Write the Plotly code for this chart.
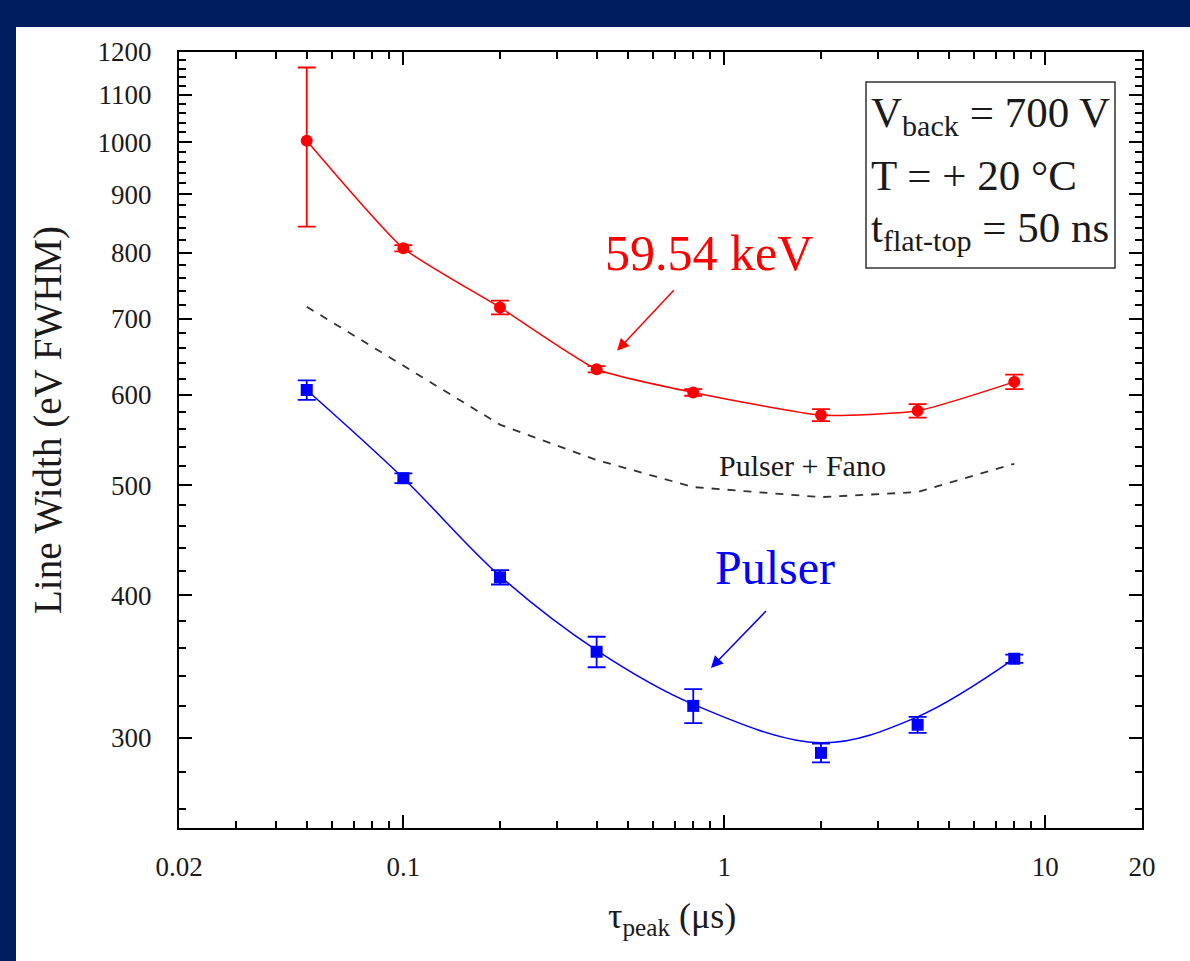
import plotly.graph_objects as go

# ---- data ----
tau_peak = [0.05, 0.1, 0.2, 0.4, 0.8, 2, 4, 8]          # µs
kev59_width = [1003, 807, 716, 632, 603, 576, 581, 616]  # eV FWHM
kev59_err = [160, 5, 10, 4, 4, 7, 8, 9]
pulser_width = [606, 507, 415, 357, 320, 291, 308, 352]
pulser_err = [12, 5, 6, 11, 11, 5.5, 5, 3]
pulser_fit = [606, 507, 416, 358, 321, 297, 313, 352]
pulser_fano = [717, 636, 565, 526, 498, 488, 493, 522]

x_tickvals = [0.02, 0.1, 1, 10, 20]
x_ticktext = ["0.02", "0.1", "1", "10", "20"]
x_minor = [0.03, 0.04, 0.05, 0.06, 0.07, 0.08, 0.09,
           0.2, 0.3, 0.4, 0.5, 0.6, 0.7, 0.8, 0.9,
           2, 3, 4, 5, 6, 7, 8, 9]
y_tickvals = [300, 400, 500, 600, 700, 800, 900, 1000, 1100, 1200]
y_minor = [v for v in range(260, 1200, 20) if v % 100 != 0]

FONT = "Liberation Serif, Times New Roman, serif"
NAVY = "#001E5E"
RED = "#FF0000"
BLUE = "#0000FF"
INK = "#1a1a1a"

fig = go.Figure()

# Pulser + Fano (dashed)
fig.add_trace(go.Scatter(
    x=tau_peak, y=pulser_fano, mode="lines",
    line=dict(color="#333333", width=1.8, dash="8px,8px"),
    name="Pulser + Fano", showlegend=False, hoverinfo="skip"))

# 59.54 keV line
fig.add_trace(go.Scatter(
    x=tau_peak, y=kev59_width, mode="lines+markers",
    line=dict(color=RED, width=1.5, shape="spline", smoothing=0.5),
    marker=dict(color=RED, size=12, symbol="circle"),
    error_y=dict(type="data", array=kev59_err, visible=True,
                 color=RED, thickness=1.8, width=9),
    name="59.54 keV", showlegend=False))

# Pulser fit curve
fig.add_trace(go.Scatter(
    x=tau_peak, y=pulser_fit, mode="lines",
    line=dict(color=BLUE, width=1.5, shape="spline", smoothing=1.0),
    name="Pulser fit", showlegend=False, hoverinfo="skip"))

# Pulser points
fig.add_trace(go.Scatter(
    x=tau_peak, y=pulser_width, mode="markers",
    marker=dict(color=BLUE, size=12, symbol="square"),
    error_y=dict(type="data", array=pulser_err, visible=True,
                 color=BLUE, thickness=1.8, width=9),
    name="Pulser", showlegend=False))

axis_common = dict(
    type="log", showline=True, linecolor="black", linewidth=2,
    mirror="ticks", ticks="inside", ticklen=13, tickwidth=2, tickcolor="black",
    showgrid=False, zeroline=False,
    tickfont=dict(family=FONT, size=27, color=INK),
)

fig.update_xaxes(
    **axis_common,
    range=[-1.69897, 1.30103],
    tickmode="array", tickvals=x_tickvals, ticktext=x_ticktext,
    ticklabelstandoff=14,
    minor=dict(ticks="inside", ticklen=7, tickwidth=1.5, tickcolor="black",
               tickmode="array", tickvals=x_minor, showgrid=False),
)
fig.update_yaxes(
    **axis_common,
    range=[2.39794, 3.07918],
    tickmode="array", tickvals=y_tickvals,
    ticklabelstandoff=20,
    minor=dict(ticks="inside", ticklen=7, tickwidth=1.5, tickcolor="black",
               tickmode="array", tickvals=y_minor, showgrid=False),
)

annotations = [
    # axis titles
    dict(text="Line Width (eV FWHM)", xref="paper", yref="paper",
         x=(48 - 179) / 963, y=(828 - 420) / 776, textangle=-90,
         showarrow=False, xanchor="center", yanchor="middle",
         font=dict(family=FONT, size=39, color=INK)),
    dict(text="τ<sub>peak</sub> (μs)", xref="paper", yref="paper",
         x=(672 - 179) / 963, y=(828 - 918) / 776,
         showarrow=False, xanchor="center", yanchor="middle",
         font=dict(family=FONT, size=36, color=INK)),
    # series labels with arrows
    dict(text="59.54 keV", x=-0.3344, y=2.8169, xref="x", yref="y",
         showarrow=True, ax=92, ay=-98, arrowhead=2, arrowsize=1.6,
         arrowwidth=1.5, arrowcolor=RED, startstandoff=11,
         font=dict(family=FONT, size=50, color=RED)),
    dict(text="Pulser", x=0.1578, y=2.6262, xref="x", yref="y",
         showarrow=False, xanchor="center", yanchor="middle",
         font=dict(family=FONT, size=48, color=BLUE)),
    dict(text=" ", x=-0.0419, y=2.5384, xref="x", yref="y",
         showarrow=True, ax=57, ay=-59, arrowhead=2, arrowsize=1.6,
         arrowwidth=1.5, arrowcolor=BLUE, font=dict(size=2)),
    dict(text="Pulser + Fano", x=0.2420, y=2.7166, xref="x", yref="y",
         showarrow=False, xanchor="center", yanchor="middle",
         font=dict(family=FONT, size=30, color=INK)),
    # parameter box text
    dict(text="V<sub>back</sub> = 700 V", xref="paper", yref="paper",
         x=(869 - 179) / 963, y=(828 - 116) / 776,
         showarrow=False, xanchor="left", yanchor="middle",
         font=dict(family=FONT, size=43, color=INK)),
    dict(text="T = + 20 °C", xref="paper", yref="paper",
         x=(869 - 179) / 963, y=(828 - 175) / 776,
         showarrow=False, xanchor="left", yanchor="middle",
         font=dict(family=FONT, size=43, color=INK)),
    dict(text="t<sub>flat-top</sub> = 50 ns", xref="paper", yref="paper",
         x=(869 - 179) / 963, y=(828 - 231) / 776,
         showarrow=False, xanchor="left", yanchor="middle",
         font=dict(family=FONT, size=43, color=INK)),
]

shapes = [
    # white page inside the navy frame
    dict(type="rect", xref="paper", yref="paper", layer="below",
         x0=(16 - 179) / 963, x1=(1200 - 179) / 963,
         y0=(828 - 975) / 776, y1=(828 - 27) / 776,
         fillcolor="white", line=dict(width=0)),
    # parameter box
    dict(type="rect", xref="paper", yref="paper",
         x0=(866 - 179) / 963, x1=(1115 - 179) / 963,
         y0=(828 - 268) / 776, y1=(828 - 82) / 776,
         line=dict(color="#333333", width=1.5), fillcolor="rgba(0,0,0,0)"),
]

fig.update_layout(
    width=1190, height=961,
    margin=dict(l=179, r=48, t=52, b=133, autoexpand=False),
    paper_bgcolor=NAVY, plot_bgcolor="white",
    font=dict(family=FONT, color=INK),
    annotations=annotations, shapes=shapes,
    showlegend=False,
)

fig.write_html(
    "out.html",
    config=dict(displayModeBar=False),
    post_script="document.body.style.margin='0';"
                "document.body.style.overflow='hidden';"
                "document.body.style.background='" + NAVY + "';",
)
